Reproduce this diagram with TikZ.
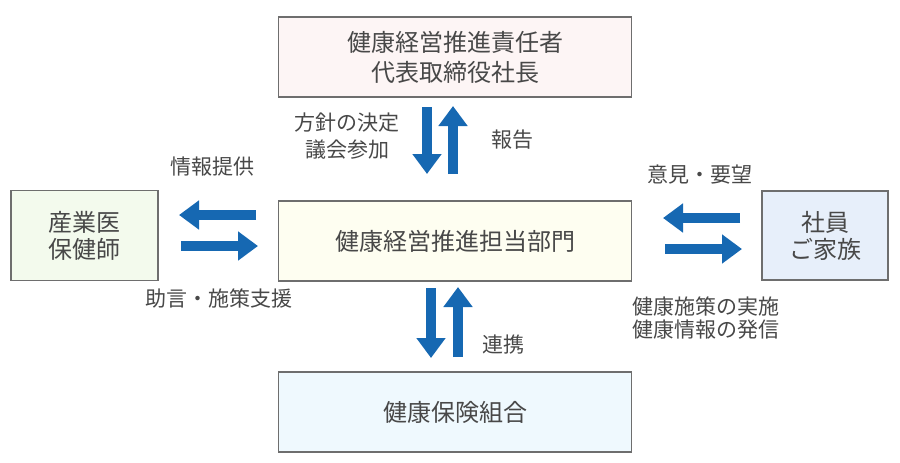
\documentclass[tikz,border=0pt]{standalone}
\usepackage{fontspec}
\setmainfont{Noto Sans CJK JP}
\usepackage{xcolor}
\definecolor{textgray}{RGB}{72,72,72}
\definecolor{linegray}{RGB}{110,110,110}
\definecolor{flowblue}{RGB}{22,104,178}
\definecolor{fillpink}{RGB}{253,245,245}
\definecolor{fillcream}{RGB}{254,254,241}
\definecolor{fillgreen}{RGB}{243,250,237}
\definecolor{fillblue}{RGB}{231,239,250}
\definecolor{fillsky}{RGB}{239,249,254}
\usetikzlibrary{arrows.meta}
\newcommand{\widthwide}{176.5pt}
\newcommand{\heightbox}{40pt}
\tikzset{
    box/.style={draw=linegray, line width=0.75pt, rectangle, align=center,
        text=textgray, font=\fontsize{12}{15}\selectfont, inner sep=0pt},
    widebox/.style={box, minimum width=\widthwide, minimum height=\heightbox},
    note/.style={text=textgray, align=center, font=\fontsize{10.5}{13.5}\selectfont, inner sep=0pt},
    flow/.style={flowblue, line width=5pt,
        -{Triangle[width=14pt, length=10pt]}}
}
\begin{document}
\begin{tikzpicture}[x=0.5pt, y=-0.5pt]
    \useasboundingbox (0,0) rectangle (900,462);

    % boxes
    \node[widebox, fill=fillpink] (chief) at (455,57) {健康経営推進責任者\\代表取締役社長};
    \node[widebox, fill=fillcream] (dept) at (455,241) {健康経営推進担当部門};
    \node[widebox, fill=fillsky] (union) at (455,412) {健康保険組合};
    \node[box, fill=fillgreen, minimum width=73.5pt, minimum height=45pt,
        font=\fontsize{12}{13.5}\selectfont] (doctor) at (84.5,235.5) {産業医\\保健師};
    \node[box, fill=fillblue, minimum width=63pt, minimum height=44.5pt,
        font=\fontsize{12}{13.5}\selectfont] (staff) at (825,235.5) {社員\\ご家族};

    % arrow ends
    \coordinate (chief-dn) at (427,107);
    \coordinate (dept-dn)  at (427,174);
    \coordinate (dept-up)  at (453,174);
    \coordinate (chief-up) at (453,106);
    \coordinate (dept-dn2) at (431,288);
    \coordinate (union-dn) at (431,358);
    \coordinate (union-up) at (458,357);
    \coordinate (dept-up2) at (458,287);
    \coordinate (dept-l)   at (256,215);
    \coordinate (doctor-l) at (179,215);
    \coordinate (doctor-r) at (181,246);
    \coordinate (dept-r)   at (258,246);
    \coordinate (staff-l)  at (740,218);
    \coordinate (dept-l2)  at (663,218);
    \coordinate (dept-r2)  at (665,249);
    \coordinate (staff-r)  at (742,249);

    \draw[flow] (chief-dn) -- (dept-dn);
    \draw[flow] (dept-up) -- (chief-up);
    \draw[flow] (dept-dn2) -- (union-dn);
    \draw[flow] (union-up) -- (dept-up2);
    \draw[flow] (dept-l) -- (doctor-l);
    \draw[flow] (doctor-r) -- (dept-r);
    \draw[flow] (staff-l) -- (dept-l2);
    \draw[flow] (dept-r2) -- (staff-r);

    % labels
    \node[note] (policy) at (347,136.5) {方針の決定\\議会参加};
    \node[note] (report) at (512,140) {報告};
    \node[note] (info) at (212,167) {情報提供};
    \node[note] (advice) at (219,298) {助言・施策支援};
    \node[note] (opinion) at (700,175) {意見・要望};
    \node[note, font=\fontsize{10.5}{11.5}\selectfont] (measure) at (706,318) {健康施策の実施\\健康情報の発信};
    \node[note] (link) at (503,345) {連携};
\end{tikzpicture}
\end{document}
